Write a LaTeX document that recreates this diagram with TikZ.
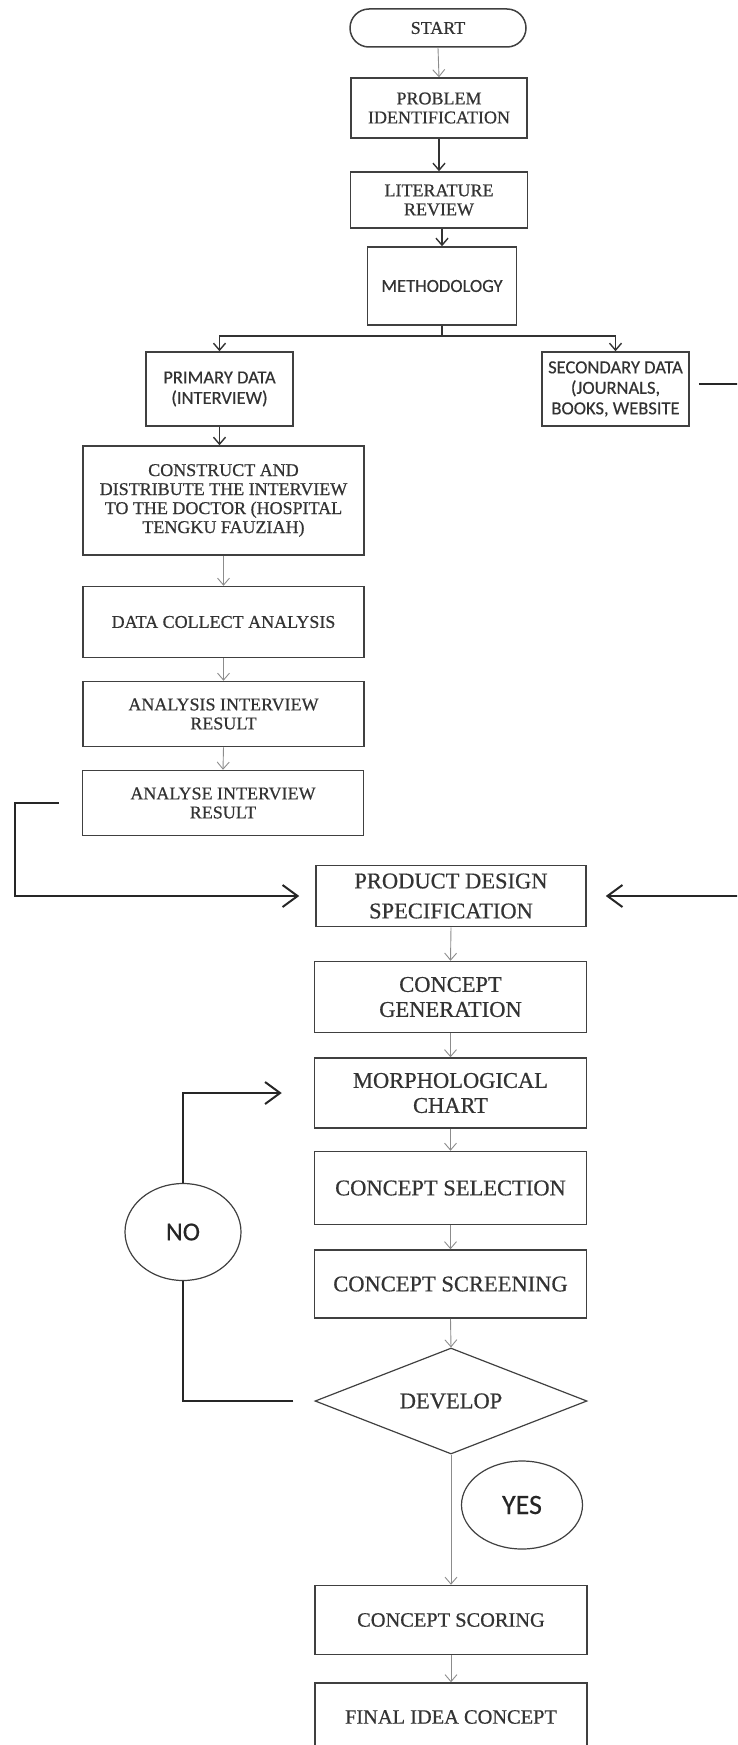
\documentclass[tikz,border=0pt]{standalone}
\usepackage{fontspec}
\setmainfont{Liberation Serif}[FakeBold=0.6]
\newfontfamily\calibri{Carlito}[FakeBold=0.4]
\usetikzlibrary{arrows.meta,shapes.geometric}

\begin{document}
\begin{tikzpicture}[x=1pt,y=-1pt,
  box/.style={draw=black!75,line width=1.5pt,text=black!80,align=center,inner sep=2pt},
  topbox/.style={box,font=\fontsize{18}{19}\selectfont},
  sanbox/.style={box,font=\calibri\fontsize{18.5}{20.5}\selectfont},
  leftbox/.style={box,minimum width=281pt,font=\fontsize{18}{19}\selectfont},
  midbox/.style={box,minimum width=272pt,font=\fontsize{22.5}{25}\selectfont},
  lowbox/.style={box,minimum width=272pt,font=\fontsize{20.4}{22}\selectfont},
  answer/.style={ellipse,draw=black!75,line width=1.2pt,fill=white,text=black!85,font=\calibri\fontsize{26}{26}\selectfont},
  flow/.style={draw=black!45,line width=0.9pt,-{Straight Barb[length=7pt,width=12pt]}},
  down/.style={draw=black!80,line width=1.4pt,-{Straight Barb[length=7pt,width=12pt]}},
  link/.style={draw=black!85,line width=2pt},
  back/.style={link,-{Straight Barb[length=15pt,width=22pt]}}]
\useasboundingbox (0,0) rectangle (737,1745);
\clip (0,0) rectangle (737,1745);

\node[topbox,rounded corners=19pt,minimum width=176pt,minimum height=38pt] (start) at (438,28) {START};
\node[topbox,minimum width=176pt,minimum height=60pt] (prob) at (439,108) {PROBLEM\\IDENTIFICATION};
\node[topbox,minimum width=177pt,minimum height=56pt] (lit) at (439,200) {LITERATURE\\REVIEW};
\node[sanbox,minimum width=149pt,minimum height=78pt] (meth) at (442,286) {METHODOLOGY};

\node[sanbox,minimum width=147pt,minimum height=74pt] (prim) at (219.5,389) {PRIMARY DATA\\(INTERVIEW)};
\node[sanbox,minimum width=147pt,minimum height=74pt] (sec) at (615.5,389) {SECONDARY DATA\\(JOURNALS,\\BOOKS, WEBSITE};

\node[leftbox,minimum height=109pt] (cons) at (223.5,500.5) {CONSTRUCT AND\\DISTRIBUTE THE INTERVIEW\\TO THE DOCTOR (HOSPITAL\\TENGKU FAUZIAH)};
\node[leftbox,minimum height=71pt] (dca) at (223.5,622) {DATA COLLECT ANALYSIS};
\node[leftbox,minimum height=65pt] (air) at (223.5,714) {ANALYSIS INTERVIEW\\RESULT};
\node[leftbox,minimum height=65pt] (ayr) at (223,803) {ANALYSE INTERVIEW\\RESULT};

\node[midbox,minimum width=270pt,minimum height=61pt,font=\fontsize{22.5}{30}\selectfont] (pds) at (451,896) {PRODUCT DESIGN\\SPECIFICATION};
\node[midbox,minimum height=71pt] (cg) at (450.5,997) {CONCEPT\\GENERATION};
\node[midbox,minimum height=70pt] (mc) at (450.5,1093) {MORPHOLOGICAL\\CHART};
\node[midbox,minimum height=73pt] (csel) at (450.5,1188) {CONCEPT SELECTION};
\node[midbox,minimum height=68pt] (cscr) at (450.5,1284) {CONCEPT SCREENING};
\node[box,diamond,aspect=2.57,inner sep=0pt,line width=1.2pt,minimum width=272pt,minimum height=106pt,font=\fontsize{22.5}{25}\selectfont] (dev) at (451,1401) {DEVELOP};

\node[answer,minimum width=116pt,minimum height=97pt] (no) at (183,1232) {NO};
\node[answer,minimum width=121pt,minimum height=88pt,font=\calibri\fontsize{28}{28}\selectfont] (yes) at (522,1505) {YES};

\node[lowbox,minimum height=69pt] (score) at (451,1620) {CONCEPT SCORING};
\node[lowbox,minimum height=68pt] (final) at (451,1717) {FINAL IDEA CONCEPT};

\coordinate (fork) at (442,336);
\coordinate (edge) at (15,896);
\coordinate (off) at (760,896);

\draw[flow] (start.south) -- (prob.north);
\draw[down] (prob.south) -- (lit.north);
\draw[down] (lit.south -| meth.north) -- (meth.north);
\draw[down] (meth.south) -- (fork) -| (prim.north);
\draw[down] (fork) -| (sec.north);
\draw[down] (prim.south) -- (prim.south |- cons.north);
\draw[flow] (cons.south) -- (dca.north);
\draw[flow] (dca.south) -- (air.north);
\draw[flow] (air.south) -- (ayr.north);

\draw[back] ([xshift=-23pt]ayr.west) -| (edge) -- ([xshift=-16pt]pds.west);
\draw[back] ([xshift=9pt,yshift=5pt]sec.east) -| (off) -- ([xshift=19pt]pds.east);

\draw[flow] (pds.south) -- (cg.north);
\draw[flow] (cg.south) -- (mc.north);
\draw[flow] (mc.south) -- (csel.north);
\draw[flow] (csel.south) -- (cscr.north);
\draw[flow] (cscr.south) -- (dev.north);

\draw[link] ([xshift=-21pt]dev.west) -| (no.south);
\draw[back] (no.north) |- ([xshift=-32pt]mc.west);

\draw[flow] (dev.south) -- (score.north);
\draw[flow] (score.south) -- (final.north);
\end{tikzpicture}
\end{document}
